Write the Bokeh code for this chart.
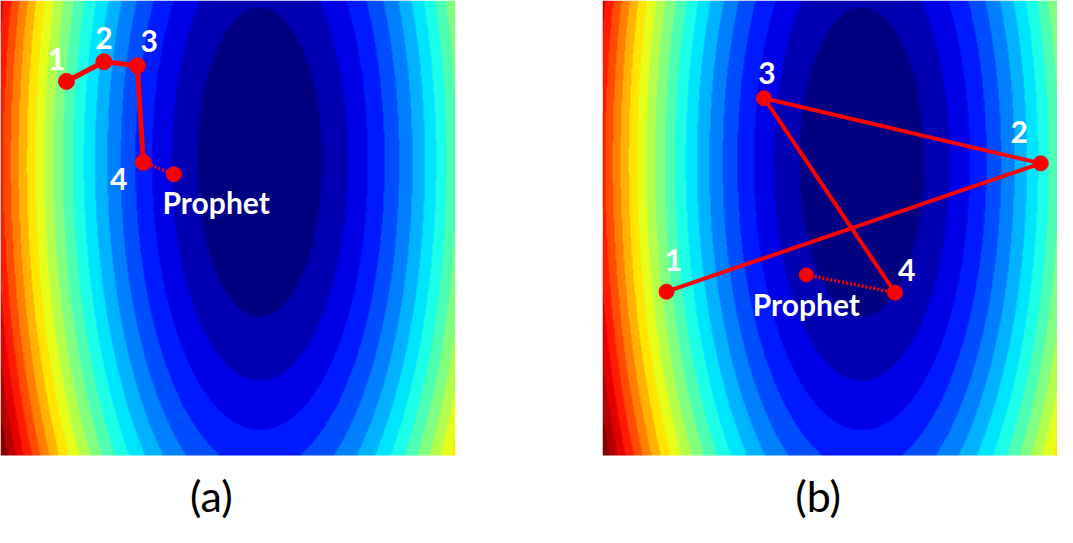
import numpy as np
from bokeh.plotting import figure
from bokeh.layouts import row
from bokeh.models import Range1d, LinearColorMapper
from bokeh.core.properties import value
from bokeh.embed import file_html
from bokeh.resources import INLINE

# ---- objective field (panel units, y upwards) ----
PANEL_W, PANEL_H = 462, 461
CENTER_X, CENTER_Y = 263.5, 297.5
ASPECT = 2.48          # vertical / horizontal semi-axis ratio
LEVEL_STEP = 4000      # contour spacing
N_LEVELS = 21

# ---- panel (a) ----
a_path_x = [67, 105, 139, 145]
a_path_y = [379, 399, 395, 297]
a_prophet_x = [176]
a_prophet_y = [285]
a_labels = ["1", "2", "3", "4", "Prophet"]
a_label_x = [57, 105, 151, 120, 219]
a_label_y = [402, 423, 420, 280, 257]

# ---- panel (b) ----
b_path_x = [65, 445, 164, 297]
b_path_y = [166, 296, 362, 165]
b_prophet_x = [207]
b_prophet_y = [183]
b_labels = ["1", "2", "3", "4", "Prophet"]
b_label_x = [72, 423, 167, 309, 207]
b_label_y = [198, 328, 388, 188, 154]

captions = ["(a)", "(b)"]
caption_x = [214, 219]
caption_y = [-41, -41]


def jet(t):
    r = np.clip(1.5 - abs(4 * t - 3), 0, 1)
    g = np.clip(1.5 - abs(4 * t - 2), 0, 1)
    b = np.clip(1.5 - abs(4 * t - 1), 0, 1)
    return "#%02x%02x%02x" % (int(round(r * 255)), int(round(g * 255)), int(round(b * 255)))


palette = [jet(k / (N_LEVELS - 1)) for k in range(N_LEVELS)]

FRAME = 455
GAP = 147
TOTAL_H = 527
scale = FRAME / PANEL_H  # px per unit (vertical)
y_low = PANEL_H - TOTAL_H / scale

nx, ny = FRAME, FRAME
xc = (np.arange(nx) + 0.5) * PANEL_W / nx
yc = (np.arange(ny) + 0.5) * PANEL_H / ny
X, Y = np.meshgrid(xc, yc)
F = (X - CENTER_X) ** 2 + ((Y - CENTER_Y) / ASPECT) ** 2
band = np.clip(np.floor(F / LEVEL_STEP), 0, N_LEVELS - 1)


def make_panel(path_x, path_y, px, py, labels, lx, ly, cap, cx, cy, lw, msize, right_border):
    p = figure(width=FRAME + right_border, height=TOTAL_H, output_backend="svg",
               toolbar_location=None, x_axis_location=None, y_axis_location=None,
               x_range=Range1d(0, PANEL_W), y_range=Range1d(y_low, PANEL_H),
               min_border_left=0, min_border_top=0, min_border_bottom=0,
               min_border_right=right_border)
    p.grid.visible = False
    p.outline_line_color = None
    p.background_fill_color = "white"
    mapper = LinearColorMapper(palette=palette, low=-0.5, high=N_LEVELS - 0.5)
    p.image(image=[band], x=0, y=0, dw=PANEL_W, dh=PANEL_H, color_mapper=mapper)
    p.line(path_x, path_y, line_color="#ff0000", line_width=lw)
    p.line([path_x[-1], px[0]], [path_y[-1], py[0]], line_color="#ff0000",
           line_width=3.5, line_dash="2 2")
    p.scatter(path_x, path_y, size=msize, color="#ff0000")
    p.scatter(px, py, size=msize - 1, color="#ff0000")
    p.text(lx, ly, text=labels, text_color="white", text_font=value("Lato"),
           text_font_style="bold", text_font_size="30px",
           text_align="center", text_baseline="middle")
    p.text([cx], [cy], text=[cap], text_color="black", text_font=value("Lato"),
           text_font_size="43px", text_align="center", text_baseline="middle")
    return p


pa = make_panel(a_path_x, a_path_y, a_prophet_x, a_prophet_y, a_labels, a_label_x, a_label_y,
                captions[0], caption_x[0], caption_y[0], 5, 16, GAP)
pb = make_panel(b_path_x, b_path_y, b_prophet_x, b_prophet_y, b_labels, b_label_x, b_label_y,
                captions[1], caption_x[1], caption_y[1], 4, 15, 0)

layout = row(pa, pb)
open("out.html", "w").write(file_html(layout, INLINE))
